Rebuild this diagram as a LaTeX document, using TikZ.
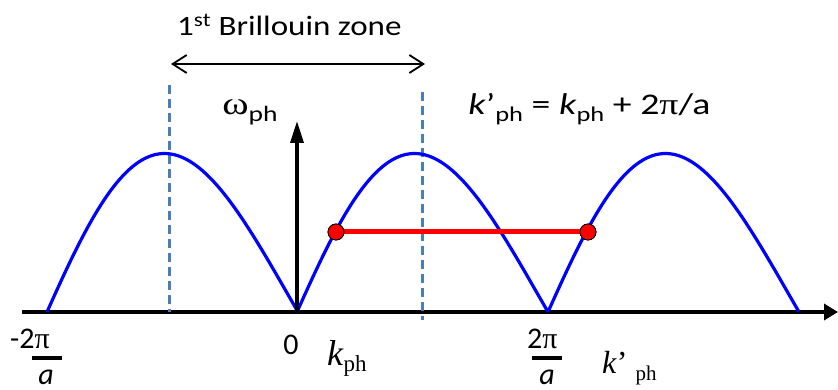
\documentclass[tikz,border=0pt]{standalone}
\usepackage{fontspec}
\setmainfont{Carlito}
\newfontfamily\tnr{Liberation Serif}
\usetikzlibrary{arrows.meta}
\definecolor{zoneblue}{HTML}{4A7EBB}
\newcommand{\lowsub}[3]{\raisebox{-#1pt}{\fontsize{#2}{#2}\selectfont #3}}
\begin{document}
\begin{tikzpicture}[x=1pt,y=-1pt,
  arch/.style={blue, line width=3.2pt, line join=round},
  axisline/.style={line width=4pt, -{Triangle[length=14pt,width=16pt]}},
  uparrow/.style={line width=3.5pt, -{Triangle[length=22pt,width=13pt]}},
  zonearrow/.style={line width=1.8pt, {Straight Barb[length=14pt,width=18pt]}-{Straight Barb[length=14pt,width=18pt]}},
  zonedash/.style={zoneblue, line width=3pt, dash pattern=on 9pt off 5pt},
  redline/.style={red, line width=5pt},
  dot/.style={circle, fill=red, draw=black, line width=0.8pt, minimum size=16pt, inner sep=0pt},
  lbl/.style={inner sep=0pt, anchor=base west},
  wide/.style={transform shape, xscale=#1}]
\useasboundingbox (0,0) rectangle (838,390);
% axis
\coordinate (xl) at (22,312);
\coordinate (xr) at (838,312);
\draw[axisline] (xl) -- (xr);
% dashed zone boundaries
\coordinate (d1t) at (169,85);
\coordinate (d1b) at (169,312);
\coordinate (d2t) at (422,92);
\coordinate (d2b) at (422,320);
\draw[zonedash] (d1t) -- (d1b);
\draw[zonedash] (d2t) -- (d2b);
% arches
\foreach \xo in {47,297,548}{
  \draw[arch] plot[domain=0:1, samples=80, variable=\t]
    ({\xo+251*\t},{312-158.5*sin(180*(\t+0.128*\t*(1-\t)))});
}
% vertical axis
\coordinate (o) at (297,312);
\coordinate (otop) at (297,121);
\draw[uparrow] (o) -- (otop);
% zone arrow
\coordinate (za) at (171,64);
\coordinate (zb) at (425,64);
\draw[zonearrow] (za) -- (zb);
% red segment
\node[dot] (p1) at (336,232) {};
\node[dot] (p2) at (588,232) {};
\draw[redline] (p1) -- (p2);
\node[dot] at (p1) {};
\node[dot] at (p2) {};
% labels
\node[lbl, wide=1.18, font=\fontsize{28}{28}\selectfont] (zone) at (177,36) {1\textsuperscript{st} Brillouin zone};
\node[lbl, wide=1.26, font=\fontsize{30}{30}\selectfont] (rel) at (468,115)
  {\textit{k}’\lowsub{7}{21}{ph} = \textit{k}\lowsub{7}{21}{ph} + 2{\tnr π}/a};
\node[lbl, wide=1.25, font=\fontsize{32}{32}\selectfont] (omega) at (222,115) {{\tnr ω}\lowsub{7}{22}{ph}};
\node[inner sep=0pt, anchor=base, font=\fontsize{30}{30}\selectfont] (zero) at (291,354) {0};
\node[lbl, font=\fontsize{30}{30}\selectfont] (mnum) at (10,348) {-2{\tnr π}};
\draw[line width=3.5pt] (32,358) -- (62,358);
\node[inner sep=0pt, anchor=base, font=\fontsize{30}{30}\selectfont] (mden) at (46,384) {\textit{a}};
\node[lbl, font=\fontsize{30}{30}\selectfont] (pnum) at (527,348) {2{\tnr π}};
\draw[line width=3.5pt] (532,358) -- (562,358);
\node[inner sep=0pt, anchor=base, font=\fontsize{30}{30}\selectfont] (pden) at (547,384) {\textit{a}};
\node[lbl, font=\fontsize{36}{36}\selectfont\tnr] (kph) at (327,365) {\textit{k}\lowsub{6}{23}{ph}};
\node[lbl, font=\fontsize{32}{32}\selectfont\tnr] (kpph) at (602,373) {\textit{k}’\hspace{8pt}\lowsub{7}{21}{ph}};
\end{tikzpicture}
\end{document}
